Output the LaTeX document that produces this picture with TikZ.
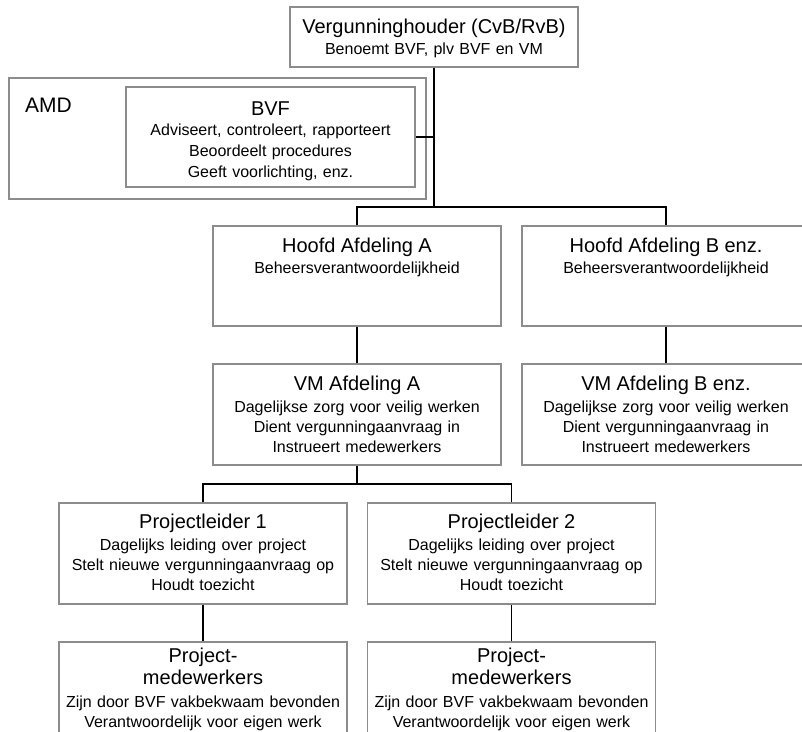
\documentclass[tikz,border=0pt]{standalone}
\usepackage{fontspec}
\setmainfont{Liberation Sans}
\definecolor{boxgray}{RGB}{140,140,140}
% heading line of a box; the strut fixes the height of the first line
\newcommand\hd[1]{{\fontsize{20}{20}\selectfont\rule{0pt}{15pt}#1}}
\begin{document}
\begin{tikzpicture}[x=1pt, y=-1pt,
  box/.style={draw=boxgray, line width=1.5pt, minimum width=288pt,
              minimum height=100pt, inner sep=0pt},
  txt/.style={anchor=north, inner sep=0pt, align=center, text width=300pt,
              font=\fontsize{16}{20}\selectfont},
  conn/.style={draw=black, line width=1.5pt},
  thinconn/.style={draw=black, line width=1.1pt}]

\useasboundingbox[fill=white] (0,0) rectangle (802,731);
\clip (0,0) rectangle (802,731);

% ---- boxes ----
\node[box, minimum height=60pt] (verg) at (434,37) {};
\node[box, minimum width=417pt, minimum height=121pt] (amd) at (217.5,138.5) {};
\node[box, minimum width=289pt] (bvf) at (270.5,137) {};
\node[box] (hA) at (357,276) {};
\node[box] (hB) at (666,276) {};
\node[box, minimum height=101pt] (vA) at (357,414.5) {};
\node[box, minimum height=101pt] (vB) at (666,414.5) {};
\node[box, minimum height=101pt] (pl1) at (203,553.5) {};
\node[box, minimum height=101pt] (pl2) at (511.5,553.5) {};
\node[box] (pm1) at (203,692) {};
\node[box] (pm2) at (511.5,692) {};

% ---- texts ----
\node[txt] (tverg) at (434,18) {\hd{Vergunninghouder (CvB/RvB)}\\[1pt]
  Benoemt BVF, plv BVF en VM};
\node[anchor=base west, inner sep=0pt, font=\fontsize{21}{21}\selectfont]
  (tamd) at (25,112) {AMD};
\node[txt, font=\fontsize{16}{21}\selectfont] (tbvf) at (270.5,100) {\hd{BVF}\\[-1pt]
  Adviseert, controleert, rapporteert\\
  Beoordeelt procedures\\
  Geeft voorlichting, enz.};
\node[txt] (thA) at (357,237) {\hd{Hoofd Afdeling A}\\[1pt]
  Beheersverantwoordelijkheid};
\node[txt] (thB) at (666,237) {\hd{Hoofd Afdeling B enz.}\\[1pt]
  Beheersverantwoordelijkheid};
\node[txt] (tvA) at (357,375) {\hd{VM Afdeling A}\\[2pt]
  Dagelijkse zorg voor veilig werken\\
  Dient vergunningaanvraag in\\
  Instrueert medewerkers};
\node[txt] (tvB) at (666,375) {\hd{VM Afdeling B enz.}\\[2pt]
  Dagelijkse zorg voor veilig werken\\
  Dient vergunningaanvraag in\\
  Instrueert medewerkers};
\node[txt] (tpl1) at (203,513) {\hd{Projectleider 1}\\[2.5pt]
  Dagelijks leiding over project\\
  Stelt nieuwe vergunningaanvraag op\\
  Houdt toezicht};
\node[txt] (tpl2) at (511.5,513) {\hd{Projectleider 2}\\[2.5pt]
  Dagelijks leiding over project\\
  Stelt nieuwe vergunningaanvraag op\\
  Houdt toezicht};
\node[txt] (tpm1) at (203,647) {\hd{Project-}\\[2.3pt]\hd{medewerkers}\\[2.7pt]
  Zijn door BVF vakbekwaam bevonden\\
  Verantwoordelijk voor eigen werk};
\node[txt] (tpm2) at (511.5,647) {\hd{Project-}\\[2.3pt]\hd{medewerkers}\\[2.7pt]
  Zijn door BVF vakbekwaam bevonden\\
  Verantwoordelijk voor eigen werk};

% ---- connectors ----
\coordinate (busT) at (434,207);
\coordinate (busM) at (357,484);
\draw[conn] (verg.south) -- (busT);
\draw[thinconn] (bvf.east) -- (bvf.east -| busT);
\draw[conn] (hA.north) |- (busT) -| (hB.north);
\draw[conn] (hA.south) -- (vA.north);
\draw[conn] (hB.south) -- (vB.north);
\draw[conn] (vA.south) -- (busM);
\draw[conn] (pl1.north) |- (busM) -| (pl2.north);
\draw[conn] (pl1.south) -- (pm1.north);
\draw[conn] (pl2.south) -- (pm2.north);
\end{tikzpicture}
\end{document}
